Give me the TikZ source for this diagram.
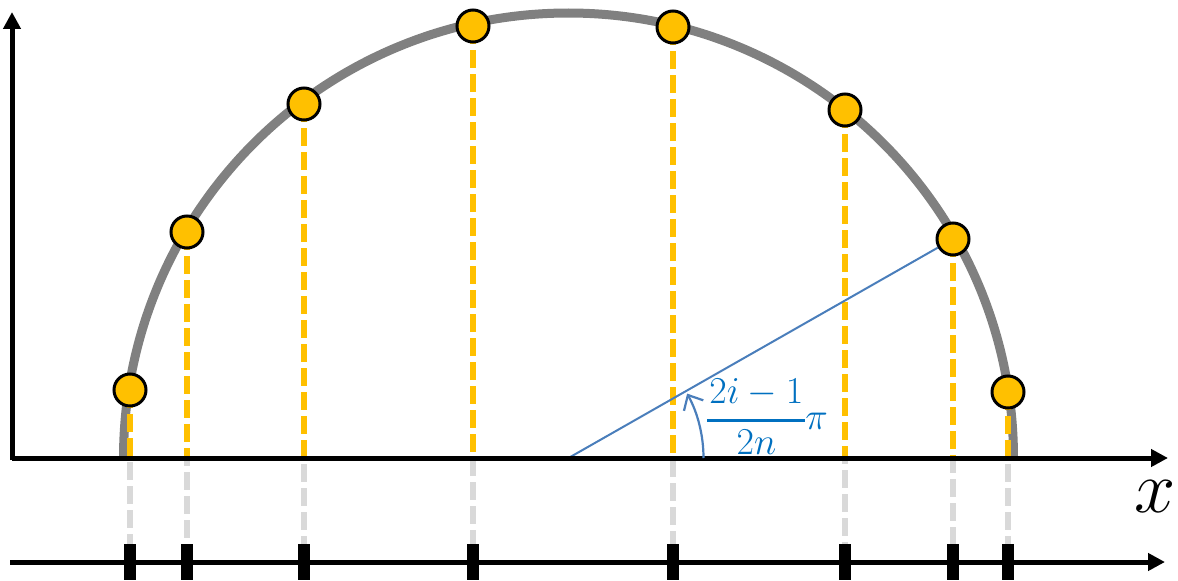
\RequirePackage{fix-cm}
\documentclass[tikz,border=0pt]{standalone}
\usepackage{amsmath}
\usetikzlibrary{arrows.meta}
\definecolor{nodeyellow}{RGB}{255,192,0}
\definecolor{arcgray}{RGB}{128,128,128}
\definecolor{dashgray}{RGB}{217,217,217}
\definecolor{anglineblue}{RGB}{74,126,187}
\definecolor{labelblue}{RGB}{0,112,192}
\pgfdeclarelayer{arclayer}
\pgfdeclarelayer{dashlayer}
\pgfsetlayers{arclayer,dashlayer,main}
\newcommand{\angfrac}{%
  {\setlength{\arrayrulewidth}{1.5pt}%
  $\begin{array}{@{\hspace{1pt}}c@{\hspace{1pt}}}2i-1\\[1.5pt]\hline\rule{0pt}{16pt}2n\end{array}\pi$}}
\tikzset{
  axis/.style={line width=2.5pt, -{Triangle[length=8.5pt, width=8.5pt]}},
  dot/.style={circle, draw=black, line width=1.5pt, fill=nodeyellow, minimum size=16pt, inner sep=0pt},
  tickmark/.style={rectangle, fill=black, minimum width=6pt, minimum height=18pt, inner sep=0pt},
  projup/.style={nodeyellow, line width=3pt, dash pattern=on 9pt off 3pt},
  projdown/.style={dashgray, line width=3pt, dash pattern=on 9pt off 3pt}
}
\begin{document}
\begin{tikzpicture}[x=0.5pt,y=0.5pt]
\useasboundingbox (0,0) rectangle (1178,580);
\coordinate (o) at (12,122);
\coordinate (c) at (568.5,122);
\coordinate (xend) at (1168,122);
\coordinate (yend) at (12,568);
\coordinate (b) at (10,18);
\coordinate (bend) at (1165,18);
% half circle
\begin{pgfonlayer}{arclayer}
\draw[arcgray, line width=4.5pt] (123.5,122) arc[start angle=180, end angle=0, radius=445];
\end{pgfonlayer}
% points and ticks
\foreach \i/\px/\py in {1/130/190, 2/187/348, 3/304/476, 4/473/554, 5/673/553, 6/845/470, 7/953/341, 8/1008/188} {
  \node[dot] (p\i) at (\px,\py) {};
  \node[tickmark] (t\i) at (\px,18) {};
}
\begin{pgfonlayer}{dashlayer}
\foreach \i in {1,...,8} {
  \draw[projdown] (p\i.center) -- (t\i.north);
  \draw[projup] (p\i.center) -- (p\i.center |- o);
}
% angle
\draw[anglineblue, line width=1pt] (c) -- (p7);
\end{pgfonlayer}
% axes
\draw[axis] (12,120) -- (yend);
\draw[axis] (o) -- (xend);
\draw[axis] (b) -- (bend);
\node[inner sep=0pt] (xlbl) at (1155,83) {\fontsize{37}{44}\selectfont$x$};
\draw[anglineblue, line width=1.1pt, -{Straight Barb[length=6pt, width=11pt]}] (703.5,122) arc[start angle=0, end angle=28.5, radius=135];
\node[labelblue, anchor=base west, inner sep=0pt] (lbl) at (707,150.5) {\fontsize{19}{22}\selectfont\angfrac};
\end{tikzpicture}
\end{document}
